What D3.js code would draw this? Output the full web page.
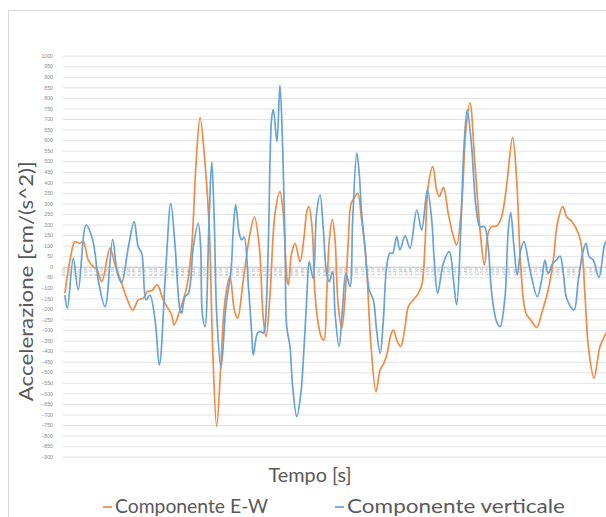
<!DOCTYPE html>
<html>
<head>
<meta charset="utf-8">
<script src="https://cdn.jsdelivr.net/npm/d3@7"></script>
<style>
  html, body { margin: 0; padding: 0; background: #ffffff; }
  svg { display: block; }
</style>
</head>
<body>
<script>
// Accelerogram: E-W and vertical components (cm/s^2) over time (s)
const ewTime = [0.007,0.026,0.044,0.060,0.075,0.093,0.112,0.124,0.143,0.173,0.192,0.216,0.235,0.257,0.277,0.296,0.310,0.327,0.347,0.369,0.400,0.409,0.431,0.456,0.474,0.490,0.505,0.523,0.539,0.551,0.566,0.581,0.597,0.615,0.631,0.643,0.664,0.689,0.705,0.723,0.738,0.748,0.762,0.781,0.799,0.811,0.824,0.830,0.842,0.855,0.873,0.888,0.898,0.906,0.918,0.928,0.940,0.953,0.961,0.971,0.981,0.992,1.002,1.014,1.027,1.039,1.051,1.061,1.072,1.085,1.100,1.112,1.121,1.133,1.153,1.168,1.182,1.194,1.206,1.217,1.230,1.244,1.260,1.272,1.290,1.309,1.323,1.333,1.345,1.362,1.376,1.386,1.401,1.419,1.438,1.450,1.468,1.484,1.499,1.517,1.536,1.552,1.566,1.579,1.597,1.614,1.632,1.656,1.671,1.686,1.705,1.723,1.745,1.763,1.787,1.806,1.821,1.841,1.855,1.874,1.898,1.910,1.923,1.935,1.956,1.978,2.000,2.022];
const ewValues = [-125,32,119,111,119,32,0,-10,-70,88,8,-78,-149,-205,-157,-149,-118,-113,-86,-157,-228,-276,-205,-94,95,490,708,490,174,-378,-757,-473,-157,-47,-205,-244,-63,159,237,95,-252,-331,-142,253,356,253,-47,-86,64,111,24,143,261,285,174,-126,-268,-339,-347,-142,127,225,127,-189,-291,-142,127,300,324,348,222,95,-63,-347,-592,-489,-457,-410,-330,-299,-350,-378,-284,-189,-157,-126,-78,95,379,474,364,332,376,253,143,103,285,648,777,490,174,8,159,190,193,230,364,613,411,0,-220,-252,-287,-220,-110,32,206,285,237,214,159,95,-142,-378,-528,-378,-315,-250];

const vtTime = [0.007,0.016,0.038,0.056,0.085,0.106,0.118,0.130,0.155,0.183,0.200,0.216,0.241,0.262,0.277,0.290,0.306,0.320,0.339,0.355,0.379,0.397,0.413,0.431,0.437,0.449,0.462,0.480,0.498,0.507,0.513,0.523,0.538,0.548,0.557,0.566,0.582,0.600,0.619,0.627,0.636,0.649,0.658,0.667,0.683,0.695,0.701,0.716,0.726,0.738,0.744,0.756,0.769,0.775,0.788,0.799,0.809,0.818,0.824,0.836,0.846,0.861,0.876,0.888,0.898,0.907,0.916,0.922,0.934,0.947,0.959,0.971,0.981,0.993,1.002,1.017,1.030,1.042,1.057,1.067,1.082,1.091,1.100,1.112,1.128,1.143,1.155,1.168,1.180,1.192,1.204,1.214,1.229,1.241,1.260,1.278,1.303,1.321,1.342,1.358,1.368,1.380,1.401,1.423,1.438,1.450,1.465,1.477,1.489,1.505,1.521,1.536,1.552,1.566,1.579,1.597,1.610,1.628,1.640,1.649,1.661,1.673,1.686,1.698,1.720,1.747,1.763,1.775,1.787,1.804,1.818,1.831,1.843,1.855,1.882,1.898,1.914,1.926,1.938,1.953,1.974,1.993,2.000,2.022];
const vtValues = [-134,-197,40,-110,198,143,65,-63,-189,130,-30,-75,95,214,95,64,-157,-134,-252,-465,0,300,95,-205,-220,-142,-126,95,206,95,-220,-284,222,498,222,-220,-481,-189,-15,174,293,159,127,140,-94,-315,-418,-315,-307,-315,-284,95,711,745,593,861,569,95,-284,-378,-568,-710,-600,-378,-142,24,-31,-55,253,340,174,-31,-71,-23,-220,-378,-189,-31,-94,222,538,443,253,95,-110,-157,-299,-410,-252,0,64,64,143,80,146,88,269,174,364,222,17,-126,17,72,-63,-181,174,569,743,569,285,190,190,95,-126,-260,-284,-142,174,256,95,-39,80,119,-15,-142,-63,32,-31,17,32,51,-31,-149,-205,-63,64,111,48,32,-50,95,119,140];

const yTicks = d3.range(-900, 1001, 50);
const xTicks = d3.range(0, 100).map(i => i * 0.02);

const seriesNames = ["Componente E-W", "Componente verticale"];
const seriesColors = ["#EF8C46", "#68A3D8"];

const W = 606, H = 517;
const plot = { left: 63, right: 606, top: 55.7, bottom: 456.7 };

const svg = d3.select("body").append("svg")
  .attr("width", W).attr("height", H)
  .style("font-family", "Lato, 'Open Sans', sans-serif");

// chart frame
svg.append("rect")
  .attr("x", 8.5).attr("y", 10.5)
  .attr("width", W + 20).attr("height", H + 20)
  .attr("fill", "#ffffff").attr("stroke", "#d9d9d9").attr("stroke-width", 1);

const x = d3.scaleLinear().domain([0, 2.0]).range([plot.left, plot.right]);
const y = d3.scaleLinear().domain([-900, 1000]).range([plot.bottom, plot.top]);

// value axis + horizontal gridlines
const yAxis = svg.append("g")
  .attr("transform", `translate(${plot.left},0)`)
  .call(d3.axisLeft(y).tickValues(yTicks).tickSize(-(plot.right - plot.left)).tickPadding(10).tickFormat(d3.format("d")));
yAxis.select(".domain").remove();
yAxis.selectAll(".tick line").attr("stroke", "#e3e3e3").attr("stroke-width", 1);
yAxis.selectAll(".tick text")
  .attr("fill", "#8c8c8c").style("font-size", "5.2px").style("font-family", "'Liberation Sans', sans-serif");

// category axis on the zero line
const xAxis = svg.append("g")
  .attr("transform", `translate(0,${y(0)})`)
  .call(d3.axisBottom(x).tickValues(xTicks).tickSize(0).tickFormat(d => d3.format(".2f")(d).replace(".", ",")));
xAxis.select(".domain").attr("stroke", "#c8c8c8");
xAxis.selectAll(".tick text")
  .attr("transform", "rotate(-90)")
  .attr("text-anchor", "end")
  .attr("x", -1.5).attr("y", 0).attr("dy", "0.35em")
  .attr("fill", "#8c8c8c")
  .style("font-size", "4px").style("font-family", "'Liberation Sans', sans-serif");

// series lines
const line = d3.line()
  .x(d => x(d[0]))
  .y(d => y(d[1]))
  .curve(d3.curveCatmullRom.alpha(0.5));

const series = [
  ewTime.map((t, i) => [t, ewValues[i]]),
  vtTime.map((t, i) => [t, vtValues[i]])
];

svg.append("defs").append("clipPath").attr("id", "plotClip")
  .append("rect").attr("x", plot.left).attr("y", 0).attr("width", W).attr("height", H);

svg.append("g").attr("clip-path", "url(#plotClip)")
  .selectAll("path").data(series).join("path")
  .attr("d", line)
  .attr("fill", "none")
  .attr("stroke", (d, i) => seriesColors[i])
  .attr("stroke-width", 1.7)
  .attr("stroke-linejoin", "round");

// axis titles
svg.append("text")
  .attr("transform", `translate(33,${(plot.top + plot.bottom) / 2 + 25}) rotate(-90)`)
  .attr("text-anchor", "middle")
  .attr("fill", "#595959")
  .style("font-size", "20px")
  .attr("textLength", 240).attr("lengthAdjust", "spacingAndGlyphs")
  .text("Accelerazione [cm/(s^2)]");

svg.append("text")
  .attr("x", 310).attr("y", 482)
  .attr("text-anchor", "middle")
  .attr("fill", "#595959")
  .style("font-size", "20px")
  .attr("textLength", 83).attr("lengthAdjust", "spacingAndGlyphs")
  .text("Tempo [s]");

// legend
const legendX = [103, 335];
const legendLen = [153, 218];
const legend = svg.append("g");
seriesNames.forEach((name, i) => {
  legend.append("line")
    .attr("x1", legendX[i]).attr("x2", legendX[i] + 9)
    .attr("y1", 507).attr("y2", 507)
    .attr("stroke", seriesColors[i]).attr("stroke-width", 1.7);
  legend.append("text")
    .attr("x", legendX[i] + 12).attr("y", 513)
    .attr("fill", "#595959")
    .style("font-size", "20px")
    .attr("textLength", legendLen[i]).attr("lengthAdjust", "spacingAndGlyphs")
    .text(name);
});
</script>
</body>
</html>
